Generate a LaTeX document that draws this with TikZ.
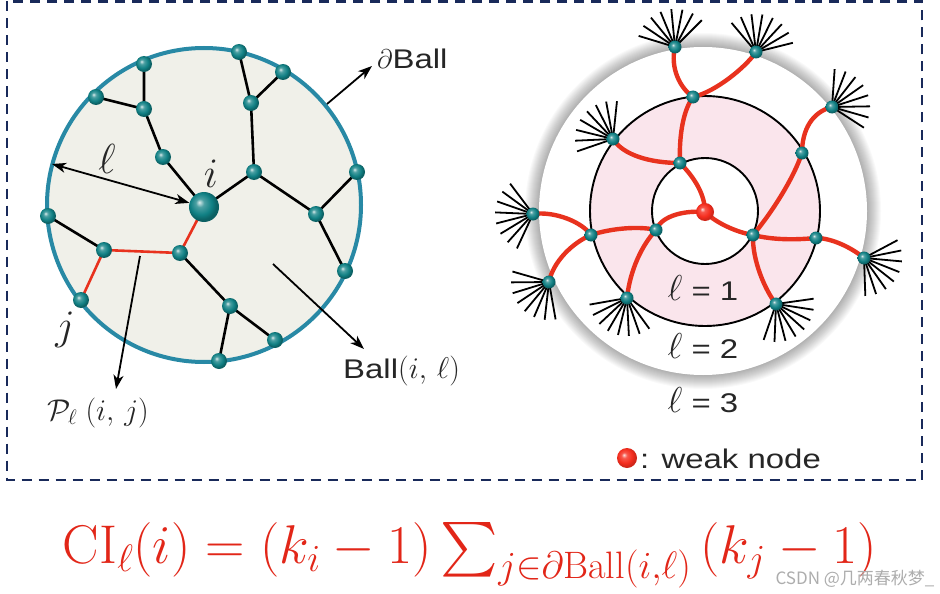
\documentclass[tikz,border=0pt]{standalone}
\usepackage{fix-cm}
\usepackage{amsmath}
\usepackage{fontspec}
\setsansfont[FakeStretch=1.22]{Liberation Sans}
\newfontfamily\cjkfont{Noto Sans CJK SC}
\DeclareFontShape{OMX}{cmex}{m}{n}{<-> cmex10}{}
\usetikzlibrary{arrows.meta}
\definecolor{frameblue}{RGB}{25,42,90}
\definecolor{ballfill}{RGB}{240,240,233}
\definecolor{balledge}{RGB}{40,137,165}
\definecolor{nodeteal}{RGB}{16,128,132}
\definecolor{weakred}{RGB}{245,45,30}
\definecolor{edgered}{RGB}{232,50,30}
\definecolor{ringpink}{RGB}{250,229,236}
\definecolor{formred}{RGB}{226,38,24}
\pgfdeclareradialshading{tealball}{\pgfpoint{-8bp}{8bp}}{color(0bp)=(nodeteal!15!white); color(7bp)=(nodeteal!75!white); color(18bp)=(nodeteal); color(25bp)=(nodeteal!75!black); color(50bp)=(nodeteal!75!black)}
\pgfdeclareradialshading{redball}{\pgfpoint{-8bp}{8bp}}{color(0bp)=(weakred!15!white); color(7bp)=(weakred!80!white); color(18bp)=(weakred); color(25bp)=(weakred!85!black); color(50bp)=(weakred!85!black)}
\pgfdeclarelayer{bg}
\pgfdeclarelayer{edges}
\pgfsetlayers{bg,edges,main}
\newcommand\labfont{\sffamily\fontsize{27}{31}\selectfont}
\newcommand\bigmath{\fontsize{42}{46}\selectfont}
\tikzset{
  tnode/.style={circle, shading=tealball, minimum size=16pt, inner sep=0pt},
  bnode/.style={tnode, minimum size=30pt},
  rnode/.style={tnode, minimum size=13pt},
  wnode/.style={circle, shading=redball, minimum size=18pt, inner sep=0pt},
  blk/.style={line width=2.6pt, black},
  redl/.style={line width=2.6pt, edgered},
  redc/.style={line width=4.4pt, edgered, line cap=round},
  fanl/.style={line width=1.8pt, black},
  arr/.style={line width=1.8pt, black, -{Stealth[length=14pt,width=10pt,inset=4pt]}},
  darr/.style={line width=1.8pt, black, {Stealth[length=14pt,width=10pt,inset=4pt]}-{Stealth[length=14pt,width=10pt,inset=4pt]}},
  lab/.style={inner sep=0pt, text=black!85},
}
\begin{document}
\begin{tikzpicture}[x=1pt,y=-1pt]
\useasboundingbox (0,0) rectangle (940,594);
% ---------- nodes, left ball ----------
\node[tnode] (l1) at (239,52) {};
\node[tnode] (l2) at (144,64) {};
\node[tnode] (l3) at (283,72) {};
\node[tnode] (l4) at (96,97) {};
\node[tnode] (l5) at (144,109) {};
\node[tnode] (l6) at (251,103) {};
\node[tnode] (l7) at (163,157) {};
\node[tnode] (l8) at (254,172) {};
\node[tnode] (l9) at (357,172) {};
\node[bnode] (ni) at (204,207) {};
\node[tnode] (l10) at (316,214) {};
\node[tnode] (l11) at (48,216) {};
\node[tnode] (l12) at (104,250) {};
\node[tnode] (l13) at (180,253) {};
\node[tnode] (l14) at (345,271) {};
\node[tnode] (nj) at (81,300) {};
\node[tnode] (l15) at (230,306) {};
\node[tnode] (l16) at (275,340) {};
\node[tnode] (l17) at (219,361) {};
% ---------- nodes, right figure ----------
\node[rnode] (rA) at (675,47) {};
\node[rnode] (rB) at (756,52) {};
\node[rnode] (rC) at (693,97) {};
\node[rnode] (rD) at (832,107) {};
\node[rnode] (rE) at (613,139) {};
\node[rnode] (rF) at (680,163) {};
\node[rnode] (rG) at (802,153) {};
\node[rnode] (rH) at (533,214) {};
\node[wnode] (rW) at (705,212) {};
\node[rnode] (rI) at (591,235) {};
\node[rnode] (rJ) at (656,230) {};
\node[rnode] (rK) at (753,235) {};
\node[rnode] (rL) at (816,238) {};
\node[rnode] (rM) at (549,282) {};
\node[rnode] (rN) at (627,298) {};
\node[rnode] (rP) at (776,304) {};
\node[rnode] (rO) at (864,258) {};
% ---------- backgrounds ----------
\begin{pgfonlayer}{bg}
\fill[white] (0,0) rectangle (940,594);
\draw[frameblue, line width=2.6pt, dash pattern=on 10pt off 7pt] (7,1.5) rectangle (922,480);
\draw[balledge, fill=ballfill, line width=4pt] (204,205) circle[radius=157pt];
\foreach \r in {163,...,178} \fill[black, opacity=0.024] (703,211) circle[radius=\r pt];
\fill[white] (703,211) circle[radius=164pt];
\fill[ringpink, even odd rule] (705,211) circle[radius=115pt] (705,211) circle[radius=53pt];
\draw[line width=1.9pt] (705,211) circle[radius=115pt];
\draw[line width=1.9pt] (705,211) circle[radius=53pt];
\end{pgfonlayer}
% ---------- edges ----------
\begin{pgfonlayer}{edges}
\draw[blk] (l2.center) -- (l5.center) -- (l7.center) -- (ni.center);
\draw[blk] (l4.center) -- (l5.center);
\draw[blk] (l1.center) -- (l6.center) -- (l8.center) -- (ni.center);
\draw[blk] (l3.center) -- (l6.center);
\draw[blk] (l8.center) -- (l10.center) -- (l14.center);
\draw[blk] (l9.center) -- (l10.center);
\draw[blk] (l11.center) -- (l12.center);
\draw[redl] (nj.center) -- (l12.center) -- (l13.center) -- (ni.center);
\draw[blk] (l13.center) -- (l15.center) -- (l16.center);
\draw[blk] (l15.center) -- (l17.center);
% fans
\foreach \n/\s/\e in {rA/45/163, rB/14/130, rD/-33/86, rE/84/199, rH/127/245, rM/164/280, rN/190/306, rP/-109/8, rO/-88/28} {
  \foreach \k in {0,...,7} {
    \pgfmathsetmacro\ang{(\s)+\k*((\e)-(\s))/7}
    \draw[fanl] (\n.center) -- ++(\ang:38pt);
  }
}
% red curves
\draw[redc] (rA.center) .. controls (670,68) and (680,88) .. (rC.center);
\draw[redc] (rB.center) .. controls (745,68) and (715,92) .. (rC.center);
\draw[redc] (rC.center) .. controls (682,112) and (679,140) .. (rF.center);
\draw[redc] (rE.center) .. controls (623,155) and (650,163) .. (rF.center);
\draw[redc] (rF.center) .. controls (695,178) and (705,195) .. (rW.center);
\draw[redc] (rD.center) .. controls (812,112) and (802,130) .. (rG.center);
\draw[redc] (rG.center) .. controls (793,180) and (770,215) .. (rK.center);
\draw[redc] (rW.center) .. controls (715,222) and (735,232) .. (rK.center);
\draw[redc] (rW.center) .. controls (680,210) and (660,218) .. (rJ.center);
\draw[redc] (rH.center) .. controls (555,211) and (582,222) .. (rI.center);
\draw[redc] (rI.center) .. controls (612,228) and (640,226) .. (rJ.center);
\draw[redc] (rI.center) .. controls (572,243) and (553,262) .. (rM.center);
\draw[redc] (rJ.center) .. controls (642,245) and (630,270) .. (rN.center);
\draw[redc] (rK.center) .. controls (773,240) and (795,240) .. (rL.center);
\draw[redc] (rK.center) .. controls (752,260) and (765,290) .. (rP.center);
\draw[redc] (rL.center) .. controls (832,238) and (852,248) .. (rO.center);
\end{pgfonlayer}
% ---------- left labels & arrows ----------
\node[lab, anchor=base] (ilab) at (211,187) {\bigmath$i$};
\node[lab, anchor=base] (jlab) at (65,339) {\bigmath$j$};
\node[lab, anchor=base] (elab) at (107,173) {\bigmath$\ell$};
\coordinate (ellA) at (52,164);
\draw[darr] (ellA) -- (ni);
\node[lab, anchor=base west] (dblab) at (377,69) {\labfont$\partial$Ball};
\coordinate (dbA) at (327,104);
\coordinate (dbT) at (372,66);
\draw[arr] (dbA) -- (dbT);
\node[lab, anchor=base west] (balllab) at (343,378) {\labfont Ball{\fontsize{30}{34}\selectfont$(i,\,\ell)$}};
\coordinate (bA) at (273,264);
\coordinate (bT) at (364,349);
\draw[arr] (bA) -- (bT);
\node[lab, anchor=base west] (plab) at (47,420) {\fontsize{30}{34}\selectfont$\mathcal{P}_{\ell}\;(i,\,j)$};
\coordinate (pA) at (140,256);
\coordinate (pT) at (116,389);
\draw[arr] (pA) -- (pT);
% ---------- right labels ----------
\node[lab, anchor=base] (l1lab) at (703,300) {{\fontsize{36}{40}\selectfont$\ell$}\labfont\ = 1};
\node[lab, anchor=base] (l2lab) at (703,358) {{\fontsize{36}{40}\selectfont$\ell$}\labfont\ = 2};
\node[lab, anchor=base] (l3lab) at (703,412) {{\fontsize{36}{40}\selectfont$\ell$}\labfont\ = 3};
\node[wnode, minimum size=20pt] (wleg) at (627,458) {};
\node[lab, anchor=base west] (wtxt) at (640,468) {\labfont: weak node};
% ---------- formula ----------
\node[inner sep=0pt, anchor=base, text=formred] (formula) at (470,563)
  {\resizebox{814pt}{!}{\fontsize{50}{56}\selectfont$\mathrm{CI}_{\ell}(i) = (k_i - 1)\textstyle\sum_{j\in\partial\mathrm{Ball}(i,\ell)}\, (k_j - 1)$}};
\node[inner sep=0pt, text=black!32] (wm) at (855,579) {\cjkfont\fontsize{17}{20}\selectfont CSDN @几两春秋梦\_};
\end{tikzpicture}
\end{document}
